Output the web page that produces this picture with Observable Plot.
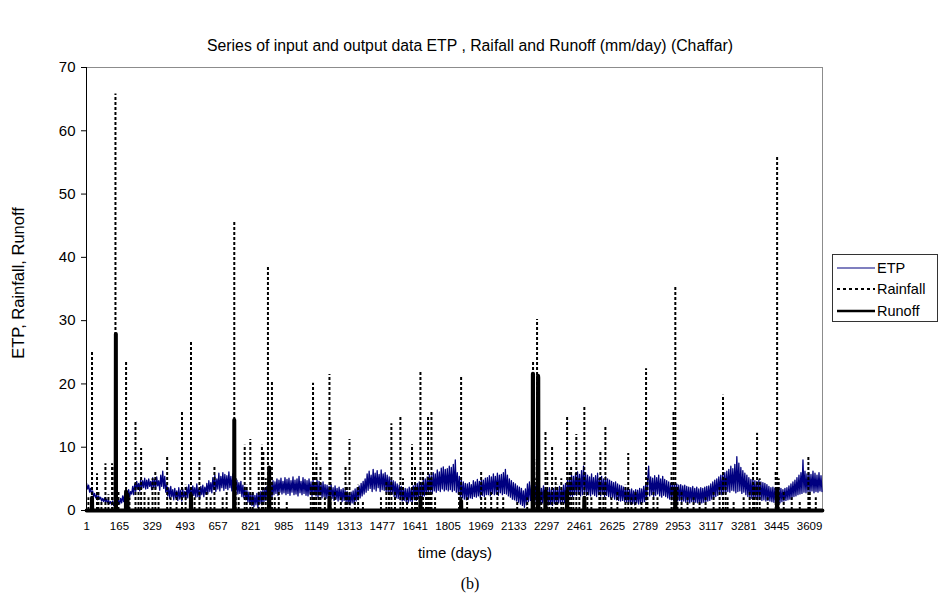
<!DOCTYPE html>
<html>
<head>
<meta charset="utf-8">
<script src="https://cdn.jsdelivr.net/npm/d3@7"></script>
<script src="https://cdn.jsdelivr.net/npm/@observablehq/plot@0.6"></script>
<style>
  html, body { margin: 0; padding: 0; background: #fff; }
  #wrap { position: relative; width: 940px; height: 600px; overflow: hidden; font-family: "Liberation Sans", Arial, sans-serif; color: #000; }
  #wrap svg.plot { position: absolute; left: 0; top: 0; }
  .ov { position: absolute; white-space: nowrap; line-height: 1; }
  #title { left: 0; width: 940px; top: 38px; text-align: center; font-size: 15.8px; }
  #xlab { left: 355px; width: 200px; top: 545px; text-align: center; font-size: 15px; }
  #ylab { left: 18px; top: 283px; font-size: 16.5px; transform: translate(-50%, -50%) rotate(-90deg); }
  #cap { left: 420px; width: 100px; top: 576px; text-align: center; font-family: "Liberation Serif", "Times New Roman", serif; font-size: 16px; }
  #legend { position: absolute; left: 832px; top: 254px; width: 106px; height: 68px; border: 1px solid #333; background: #fff; box-sizing: border-box; }
  #legend .row { position: absolute; left: 4px; height: 21px; font-size: 14.5px; display: flex; align-items: center; }
  #legend svg { display: block; margin-right: 2px; }
</style>
</head>
<body>
<div id="wrap">
  <div id="title" class="ov">Series of input and output data ETP , Raifall and Runoff (mm/day) (Chaffar)</div>
  <div id="xlab" class="ov">time (days)</div>
  <div id="ylab" class="ov">ETP, Rainfall, Runoff</div>
  <div id="cap" class="ov">(b)</div>
  <div id="legend"></div>
</div>
<script>
// ---------------- data ----------------
const nDays = 3673;
const xTickLabels = [1, 165, 329, 493, 657, 821, 985, 1149, 1313, 1477, 1641, 1805, 1969, 2133, 2297, 2461, 2625, 2789, 2953, 3117, 3281, 3445, 3609];
const yTickLabels = [0, 10, 20, 30, 40, 50, 60, 70];

// ETP (mm/day) read every 5 days starting day 1
const etpStartDay = 1;
const etpStepDays = 5;
const etp = [
  4.3, 3.4, 4.0, 2.9, 3.5, 2.6, 3.1, 2.2, 2.7, 2.0, 2.5, 1.7, 2.3, 1.8, 2.1, 1.5, 1.9, 1.4, 2.0, 1.3,
  1.8, 1.2, 1.6, 1.1, 1.4, 0.9, 1.5, 0.8, 1.2, 0.7, 1.3, 0.9, 1.6, 1.0, 1.9, 1.2, 2.3, 1.4, 2.6, 1.7,
  2.9, 1.8, 3.3, 2.2, 3.0, 2.6, 3.8, 2.5, 4.2, 3.0, 4.6, 3.4, 4.3, 3.1, 4.9, 3.5, 4.7, 3.6, 5.1, 3.4,
  4.8, 3.5, 5.0, 3.8, 4.6, 3.3, 5.2, 3.6, 4.9, 3.4, 5.3, 3.9, 4.7, 3.2, 5.6, 3.8, 6.2, 3.5, 5.4, 2.9,
  4.0, 2.3, 3.6, 1.9, 3.8, 2.2, 3.3, 1.7, 3.5, 2.0, 3.1, 1.6, 3.6, 1.8, 3.2, 1.5, 3.4, 2.1, 3.0, 1.7,
  3.7, 2.0, 4.1, 2.3, 3.5, 1.8, 3.9, 2.4, 3.6, 2.1, 4.2, 2.2, 3.4, 1.9, 3.8, 2.5, 4.0, 2.2, 3.7, 2.6,
  4.3, 2.6, 4.7, 3.0, 4.4, 2.8, 5.2, 3.3, 5.6, 3.0, 5.0, 3.4, 5.9, 3.1, 5.4, 3.6, 6.0, 3.2, 5.7, 3.5,
  5.5, 3.3, 6.1, 3.6, 5.4, 3.1, 5.8, 3.4, 5.0, 2.9, 4.8, 2.6, 4.4, 2.7, 4.6, 2.2, 4.0, 2.0, 3.7, 1.7,
  3.2, 1.3, 2.9, 1.0, 2.6, 0.8, 2.8, 0.6, 2.4, 0.9, 2.7, 0.5, 2.9, 1.1, 3.0, 0.9, 3.3, 1.4, 3.5, 1.6,
  3.8, 1.8, 4.1, 2.2, 4.4, 2.0, 4.7, 2.5, 4.5, 2.7, 5.0, 2.4, 4.8, 2.9, 5.1, 2.6, 4.6, 2.8, 5.2, 2.5,
  4.9, 2.7, 5.1, 2.4, 4.7, 2.9, 5.3, 2.5, 4.8, 2.6, 5.0, 2.3, 5.4, 2.8, 4.6, 2.5, 5.2, 2.7, 4.9, 2.4,
  4.7, 2.3, 5.0, 2.6, 4.5, 2.2, 4.9, 2.5, 4.4, 2.3, 4.8, 2.1, 4.6, 2.4, 4.3, 2.0, 4.5, 2.2, 4.1, 1.9,
  4.0, 2.0, 3.8, 1.7, 4.1, 1.9, 3.6, 1.6, 3.9, 1.8, 3.5, 1.5, 3.7, 1.7, 3.3, 1.4, 3.5, 1.6, 3.2, 1.3,
  3.0, 1.1, 2.7, 0.9, 2.9, 1.2, 3.1, 1.0, 3.4, 1.5, 3.6, 1.7, 3.9, 2.0, 4.3, 2.3, 4.6, 2.6, 5.0, 2.9,
  5.8, 3.2, 6.2, 3.5, 5.6, 3.0, 6.5, 3.4, 5.9, 3.1, 6.3, 3.6, 5.7, 3.0, 6.4, 3.3, 5.8, 3.2, 6.0, 2.9,
  5.6, 2.8, 5.3, 2.5, 5.0, 2.6, 4.7, 2.2, 4.5, 2.0, 4.2, 1.9, 4.0, 1.7, 3.8, 1.5, 3.6, 1.6, 3.5, 1.3,
  3.4, 1.2, 3.7, 1.5, 3.5, 1.3, 3.9, 1.7, 4.1, 1.6, 4.3, 1.9, 4.5, 2.1, 4.4, 2.0, 4.8, 2.3, 5.0, 2.5,
  5.3, 2.8, 5.7, 3.0, 5.5, 2.7, 6.0, 3.1, 5.8, 2.9, 6.4, 3.2, 6.1, 3.0, 6.7, 3.4, 6.9, 3.1, 6.5, 3.3,
  6.6, 3.1, 7.0, 3.3, 6.8, 3.0, 7.3, 3.2, 8.0, 2.9, 6.0, 2.6, 5.4, 2.2, 4.8, 2.0, 4.5, 1.8, 4.3, 1.7,
  4.2, 1.8, 4.4, 2.0, 4.1, 1.9, 4.7, 2.2, 4.5, 2.1, 4.9, 2.3, 4.6, 2.0, 5.0, 2.4, 4.8, 2.2, 5.1, 2.5,
  5.2, 2.5, 5.5, 2.3, 5.3, 2.7, 5.8, 2.5, 5.4, 2.6, 5.9, 2.4, 5.6, 2.8, 5.7, 2.5, 6.0, 2.7, 6.5, 2.6,
  5.6, 2.3, 5.0, 2.1, 4.7, 1.8, 4.4, 1.7, 4.2, 1.5, 3.9, 1.3, 3.7, 1.0, 3.5, 0.8, 3.1, 0.5, 3.4, 0.9,
  4.2, 1.4, 4.5, 1.6, 4.0, 1.3, 4.3, 1.2, 3.9, 1.1, 3.7, 1.3, 3.8, 1.0, 3.5, 1.2, 3.9, 0.9, 3.6, 1.1,
  3.4, 0.9, 3.6, 1.0, 3.3, 0.8, 3.5, 1.1, 3.7, 1.0, 3.4, 1.2, 3.8, 1.1, 3.6, 1.3, 4.0, 1.2, 4.3, 1.5,
  4.8, 2.0, 5.2, 2.3, 5.6, 2.2, 5.4, 2.5, 5.9, 2.4, 6.1, 2.6, 5.7, 2.3, 6.3, 2.5, 7.0, 2.7, 6.0, 2.4,
  5.6, 2.5, 5.3, 2.3, 5.8, 2.6, 5.2, 2.4, 5.5, 2.2, 5.9, 2.5, 5.1, 2.3, 5.4, 2.6, 5.0, 2.2, 5.3, 2.4,
  5.0, 2.2, 4.8, 2.0, 4.6, 2.1, 4.4, 1.8, 4.5, 1.7, 4.2, 1.6, 4.0, 1.5, 3.9, 1.6, 3.7, 1.4, 3.6, 1.3,
  3.5, 1.2, 3.3, 1.0, 3.4, 1.1, 3.1, 0.9, 3.3, 1.2, 3.2, 1.0, 3.5, 1.1, 3.4, 1.3, 3.8, 1.4, 4.2, 1.7,
  5.0, 7.0, 2.3, 5.3, 2.5, 5.1, 2.2, 5.5, 2.4, 5.2, 2.6, 5.6, 2.3, 5.0, 2.1, 5.4, 2.4, 4.9, 2.2, 4.7,
  2.0, 4.5, 1.8, 4.3, 1.7, 4.4, 1.6, 4.1, 1.8, 4.2, 1.5, 4.0, 1.6, 4.1, 1.4, 3.9, 1.5, 4.0, 1.3, 3.8,
  1.3, 3.7, 1.2, 3.6, 1.4, 3.8, 1.1, 3.5, 1.3, 3.7, 1.2, 3.4, 1.0, 3.6, 1.2, 3.5, 1.3, 3.7, 1.4, 3.8,
  1.5, 3.9, 1.6, 4.2, 1.8, 4.5, 2.0, 4.8, 2.2, 5.0, 2.4, 5.3, 2.6, 5.6, 2.5, 5.8, 2.8, 6.0, 2.7, 6.2,
  3.0, 6.5, 2.9, 7.0, 3.2, 6.6, 3.1, 7.3, 2.8, 8.5, 3.0, 7.5, 3.1, 6.8, 2.7, 6.3, 2.9, 5.9, 2.5, 5.6,
  2.2, 5.2, 2.0, 4.9, 1.9, 5.0, 1.8, 4.7, 2.0, 4.6, 1.7, 4.8, 1.8, 4.5, 1.6, 4.4, 1.7, 4.3, 1.5, 4.1,
  1.6, 3.8, 1.5, 3.6, 1.4, 3.7, 1.3, 3.5, 1.5, 3.4, 1.4, 3.6, 1.2, 3.5, 1.4, 3.3, 1.5, 3.5, 1.6, 3.6,
  1.7, 3.9, 1.8, 4.2, 2.0, 4.5, 2.2, 4.8, 2.3, 5.2, 2.5, 5.6, 2.6, 6.0, 2.7, 8.0, 2.9, 6.2, 2.8, 5.8,
  3.0, 6.0, 2.9, 5.7, 3.1, 6.2, 2.8, 5.9, 3.0, 5.6, 2.9, 6.0, 3.1, 5.5, 3.0
];

// Rainfall events [day, mm]; all other days are 0
const rainEvents = [
  [10, 2], [28, 25.0], [53, 5.8], [60, 3], [75, 1.5], [95, 7.4], [110, 2.5], [128, 7.4], [140, 7], [145, 65.8],
  [150, 5], [160, 3], [198, 23.7], [215, 2], [245, 14.0], [260, 4], [273, 9.8], [290, 3], [310, 2], [330, 5],
  [344, 6.0], [360, 3], [403, 8.7], [420, 2], [450, 3], [477, 15.8], [495, 4], [522, 26.7], [540, 2], [564, 7.6],
  [600, 3], [620, 2], [639, 6.9], [680, 2], [700, 3], [738, 45.7], [745, 5], [760, 2], [790, 10.3], [800, 4],
  [818, 11.2], [830, 3], [860, 6], [876, 10.3], [883, 9.5], [895, 5], [906, 38.7], [926, 20.4], [940, 2], [960, 3],
  [1000, 1.5], [1120, 4], [1131, 20.1], [1140, 6], [1148, 9.0], [1160, 3], [1168, 7.1], [1190, 2], [1213, 21.5], [1218, 14.0],
  [1240, 3], [1270, 2], [1293, 7.1], [1300, 4], [1313, 11.2], [1340, 2], [1356, 4.0], [1380, 1.5], [1470, 2], [1497, 4.7],
  [1510, 4], [1522, 13.7], [1540, 3], [1567, 14.7], [1580, 5], [1600, 2], [1625, 10.4], [1640, 7], [1650, 4], [1667, 22.0],
  [1680, 6], [1695, 3], [1705, 15.0], [1715, 5], [1722, 15.7], [1740, 2], [1860, 3], [1870, 21.3], [1900, 2], [1970, 6.0],
  [1990, 2], [2020, 3], [2051, 4.7], [2080, 2], [2150, 1.5], [2200, 2], [2229, 23.4], [2235, 8], [2245, 5], [2249, 30.2],
  [2270, 3], [2291, 12.4], [2300, 6], [2310, 3], [2324, 10.0], [2342, 5.5], [2350, 4], [2370, 5], [2380, 3], [2399, 14.7],
  [2410, 6], [2419, 7.1], [2430, 4], [2445, 12.0], [2460, 5], [2485, 16.4], [2500, 3], [2520, 2], [2560, 5], [2565, 9.5],
  [2580, 4], [2590, 13.2], [2620, 2], [2650, 3], [2690, 4], [2704, 9.0], [2720, 2], [2740, 3], [2770, 1.5], [2793, 22.4],
  [2800, 5], [2830, 3], [2850, 2], [2920, 6], [2930, 15.8], [2939, 35.4], [2950, 4], [2970, 3], [3000, 2], [3030, 2],
  [3060, 1.5], [3090, 2], [3130, 3], [3160, 4], [3177, 18.2], [3190, 5], [3200, 2], [3230, 1.5], [3280, 2], [3310, 3],
  [3327, 7.4], [3335, 4], [3347, 12.2], [3360, 5], [3400, 2], [3440, 6], [3447, 56.1], [3455, 5], [3480, 3], [3520, 2],
  [3560, 1.5], [3603, 8.5], [3610, 3], [3640, 2]
];

// Runoff events [day, mm]; all other days are 0
const runoffEvents = [
  [28, 2], [147, 27.9], [198, 3], [205, 2.5], [522, 2.5], [738, 14.3], [912, 6.8], [1213, 2], [1667, 2], [1870, 1.5],
  [2228, 21.6], [2229, 21.6], [2254, 21.3], [2255, 21.0], [2291, 3], [2399, 3], [2485, 2], [2939, 3], [3447, 3.2]
];

// ---------------- build tables ----------------
const etpData = etp.map((v, i) => ({day: etpStartDay + i * etpStepDays, v}));
function daily(events) {
  const m = new Map(events);
  return d3.range(1, nDays + 1).map(day => ({day, v: m.get(day) || 0}));
}
const rainData = daily(rainEvents);
const runoffData = daily(runoffEvents);
const xDomain = [0.5, nDays + 0.5];

const chart = Plot.plot({
  width: 940,
  height: 600,
  marginTop: 67,
  marginBottom: 90,
  marginLeft: 86,
  marginRight: 118,
  style: {background: "transparent", color: "#000", fontFamily: "'Liberation Sans', Arial, sans-serif", fontSize: "12px", overflow: "visible"},
  x: {domain: xDomain, label: null},
  y: {domain: [yTickLabels[0], yTickLabels[yTickLabels.length - 1]], label: null},
  marks: [
    Plot.frame({stroke: "#8c8c8c", strokeWidth: 1}),
    Plot.line(etpData, {x: "day", y: "v", stroke: "#000080", strokeWidth: 1.3}),
    Plot.ruleX(rainData, {filter: d => d.v > 0, x: "day", y: "v", stroke: "#000", strokeWidth: 2, strokeDasharray: "3,2"}),
    Plot.line(runoffData, {x: "day", y: "v", stroke: "#000", strokeWidth: 4}),
    Plot.ruleX([xDomain[0]], {stroke: "#000", strokeWidth: 1}),
    Plot.ruleY([yTickLabels[0]], {stroke: "#000", strokeWidth: 1}),
    Plot.axisY({ticks: yTickLabels, tickSize: 5, tickPadding: 6, fontSize: 15, tickFormat: "d", label: null}),
    Plot.axisX({ticks: xTickLabels, tickSize: 0, tickPadding: 11, fontSize: 11.5, tickFormat: "d", label: null})
  ]
});
chart.classList.add("plot");
document.getElementById("wrap").insertBefore(chart, document.getElementById("wrap").firstChild);

// ---------------- legend ----------------
const legendItems = [
  {name: "ETP", stroke: "#000080", width: 1.2, dash: null},
  {name: "Rainfall", stroke: "#000", width: 1.8, dash: "3,3"},
  {name: "Runoff", stroke: "#000", width: 2.5, dash: null}
];
const legend = document.getElementById("legend");
legendItems.forEach((it, i) => {
  const row = document.createElement("div");
  row.className = "row";
  row.style.top = (2 + i * 21.5) + "px";
  row.innerHTML = `<svg width="38" height="10"><line x1="0" y1="5" x2="38" y2="5" stroke="${it.stroke}" stroke-width="${it.width}" ${it.dash ? `stroke-dasharray="${it.dash}"` : ""}/></svg><span>${it.name}</span>`;
  legend.appendChild(row);
});
</script>
</body>
</html>
